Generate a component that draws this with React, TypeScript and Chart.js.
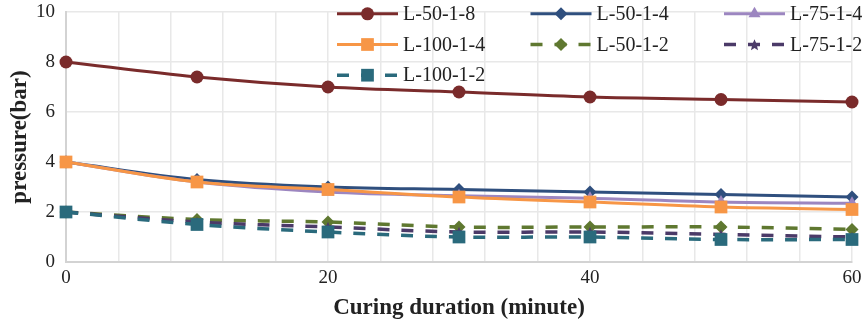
import React, { useEffect, useRef } from "react";
import { Chart, registerables } from "chart.js";

Chart.register(...registerables);

// Curing time (minutes) and measured pressure (bar) for each specimen group
const times = [0, 10, 20, 30, 40, 50, 60];
const L_50_1_8 = [8.0, 7.4, 7.0, 6.8, 6.6, 6.5, 6.4];
const L_50_1_4 = [4.0, 3.3, 3.0, 2.9, 2.8, 2.7, 2.6];
const L_75_1_4 = [4.0, 3.2, 2.8, 2.65, 2.55, 2.4, 2.35];
const L_100_1_4 = [4.0, 3.2, 2.9, 2.6, 2.4, 2.2, 2.1];
const L_50_1_2 = [2.0, 1.7, 1.6, 1.4, 1.4, 1.4, 1.3];
const L_75_1_2 = [2.0, 1.6, 1.4, 1.2, 1.2, 1.1, 1.0];
const L_100_1_2 = [2.0, 1.5, 1.2, 1.0, 1.0, 0.9, 0.9];

const yTicks = [0, 2, 4, 6, 8, 10];
const xLabelStep = 20;

const FONT = '"Liberation Serif", "Times New Roman", serif';

type Marker = "circle" | "rectRot" | "triangle" | "rect" | "star";

interface SeriesDef {
  label: string;
  values: number[];
  color: string;
  marker: Marker;
  dashed: boolean;
  radius: number;
}

const series: SeriesDef[] = [
  { label: "L-50-1-8", values: L_50_1_8, color: "#7A2B2B", marker: "circle", dashed: false, radius: 6.5 },
  { label: "L-50-1-4", values: L_50_1_4, color: "#2F4F7E", marker: "rectRot", dashed: false, radius: 6.5 },
  { label: "L-75-1-4", values: L_75_1_4, color: "#9C86C0", marker: "triangle", dashed: false, radius: 7 },
  { label: "L-100-1-4", values: L_100_1_4, color: "#F79646", marker: "rect", dashed: false, radius: 9 },
  { label: "L-50-1-2", values: L_50_1_2, color: "#5F7830", marker: "rectRot", dashed: true, radius: 6.5 },
  { label: "L-75-1-2", values: L_75_1_2, color: "#4B3A68", marker: "star", dashed: true, radius: 6 },
  { label: "L-100-1-2", values: L_100_1_2, color: "#2A6A7C", marker: "rect", dashed: true, radius: 9 },
];

const DASH = [12, 12];

function starPath(ctx: CanvasRenderingContext2D, cx: number, cy: number, r: number) {
  const inner = r * 0.45;
  ctx.beginPath();
  for (let i = 0; i < 10; i++) {
    const rad = i % 2 === 0 ? r : inner;
    const a = -Math.PI / 2 + (i * Math.PI) / 5;
    const px = cx + Math.cos(a) * rad;
    const py = cy + Math.sin(a) * rad;
    if (i === 0) ctx.moveTo(px, py);
    else ctx.lineTo(px, py);
  }
  ctx.closePath();
}

function makeStar(color: string, r: number): HTMLCanvasElement {
  const size = Math.ceil(r * 2 + 2);
  const c = document.createElement("canvas");
  c.width = size;
  c.height = size;
  const ctx = c.getContext("2d")!;
  ctx.fillStyle = color;
  starPath(ctx, size / 2, size / 2 + 0.8, r);
  ctx.fill();
  return c;
}

function drawMarker(ctx: CanvasRenderingContext2D, s: SeriesDef, x: number, y: number) {
  const r = s.radius;
  ctx.save();
  ctx.fillStyle = s.color;
  ctx.setLineDash([]);
  ctx.beginPath();
  switch (s.marker) {
    case "circle":
      ctx.arc(x, y, r, 0, Math.PI * 2);
      break;
    case "rectRot":
      ctx.moveTo(x, y - r);
      ctx.lineTo(x + r, y);
      ctx.lineTo(x, y + r);
      ctx.lineTo(x - r, y);
      ctx.closePath();
      break;
    case "triangle":
      ctx.moveTo(x, y - r);
      ctx.lineTo(x + r * 0.866, y + r * 0.5);
      ctx.lineTo(x - r * 0.866, y + r * 0.5);
      ctx.closePath();
      break;
    case "rect": {
      const h = r * Math.SQRT1_2;
      ctx.rect(x - h, y - h, 2 * h, 2 * h);
      break;
    }
    case "star":
      starPath(ctx, x, y + 0.8, r);
      break;
  }
  ctx.fill();
  ctx.restore();
}

// Three-column legend laid out inside the top-right of the plot
const legendPlugin = {
  id: "gridLegend",
  afterDraw(chart: Chart) {
    const ctx = chart.ctx;
    const startX = 337;
    const colStep = 193.5;
    const startY = 13.8;
    const rowStep = 30.7;
    const lineLen = 61;
    ctx.save();
    ctx.font = `20px ${FONT}`;
    ctx.textBaseline = "middle";
    ctx.textAlign = "left";
    series.forEach((s, i) => {
      const col = i % 3;
      const row = Math.floor(i / 3);
      const x0 = startX + col * colStep;
      const y = startY + row * rowStep;
      ctx.strokeStyle = s.color;
      ctx.lineWidth = s.dashed ? 3.5 : 3;
      ctx.lineCap = "butt";
      ctx.setLineDash(s.dashed ? DASH : []);
      ctx.beginPath();
      ctx.moveTo(x0, y);
      ctx.lineTo(x0 + lineLen, y);
      ctx.stroke();
      drawMarker(ctx, s, x0 + lineLen / 2, y);
      ctx.fillStyle = "#222222";
      ctx.fillText(s.label, x0 + lineLen + 5, y + 1);
    });
    ctx.restore();
  },
};

export default function App() {
  const canvasRef = useRef<HTMLCanvasElement | null>(null);

  useEffect(() => {
    const canvas = canvasRef.current;
    if (!canvas) return;

    const datasets = series.map((s, i) => ({
      label: s.label,
      data: times.map((t, k) => ({ x: t, y: s.values[k] })),
      borderColor: s.color,
      backgroundColor: s.color,
      borderWidth: s.dashed ? 3.5 : 3,
      borderDash: s.dashed ? DASH : [],
      pointStyle: s.marker === "star" ? makeStar(s.color, s.radius) : s.marker,
      pointRadius: s.radius,
      pointHoverRadius: s.radius,
      pointBackgroundColor: s.color,
      pointBorderColor: s.color,
      pointBorderWidth: 0,
      tension: 0.35,
      fill: false,
      clip: false as const,
      order: 10 - i,
    }));

    const chart = new Chart(canvas, {
      type: "line",
      data: { datasets },
      options: {
        responsive: false,
        animation: false,
        layout: { padding: { left: 0, right: 16, top: 12, bottom: 0 } },
        plugins: {
          legend: { display: false },
          tooltip: { enabled: false },
        },
        scales: {
          x: {
            type: "linear",
            min: 0,
            max: 60,
            afterFit: (scale: any) => {
              scale.height = 62;
              scale.paddingLeft = 0;
              scale.paddingRight = 0;
            },
            ticks: {
              stepSize: 4,
              autoSkip: false,
              maxRotation: 0,
              padding: 5,
              color: "#222222",
              font: { family: FONT, size: 19 },
              callback: (v: any) => (Number(v) % xLabelStep === 0 ? String(v) : ""),
            },
            grid: { color: "#E8E8E8", lineWidth: 1.5, drawTicks: false },
            border: { display: true, color: "#D3D3D3", width: 2 },
            title: {
              display: true,
              text: "Curing duration (minute)",
              color: "#222222",
              font: { family: FONT, size: 23, weight: "bold" },
              padding: { top: 0, bottom: 2 },
            },
          },
          y: {
            type: "linear",
            min: yTicks[0],
            max: yTicks[yTicks.length - 1],
            afterFit: (scale: any) => {
              scale.width = 66;
              scale.paddingTop = 0;
              scale.paddingBottom = 0;
            },
            afterBuildTicks: (scale: any) => {
              scale.ticks = yTicks.map((v) => ({ value: v }));
            },
            ticks: {
              padding: 11,
              color: "#222222",
              font: { family: FONT, size: 19 },
            },
            grid: { color: "#E8E8E8", lineWidth: 1.5, drawTicks: false },
            border: { display: true, color: "#D3D3D3", width: 2 },
            title: {
              display: true,
              text: "pressure(bar)",
              color: "#222222",
              font: { family: FONT, size: 23, weight: "bold" },
              padding: { top: 6, bottom: 0 },
            },
          },
        },
      },
      plugins: [legendPlugin],
    });

    return () => chart.destroy();
  }, []);

  return (
    <div style={{ position: "absolute", left: 0, top: 0, width: 868, height: 324, background: "#ffffff" }}>
      <canvas ref={canvasRef} width={868} height={324} style={{ display: "block" }} />
    </div>
  );
}
